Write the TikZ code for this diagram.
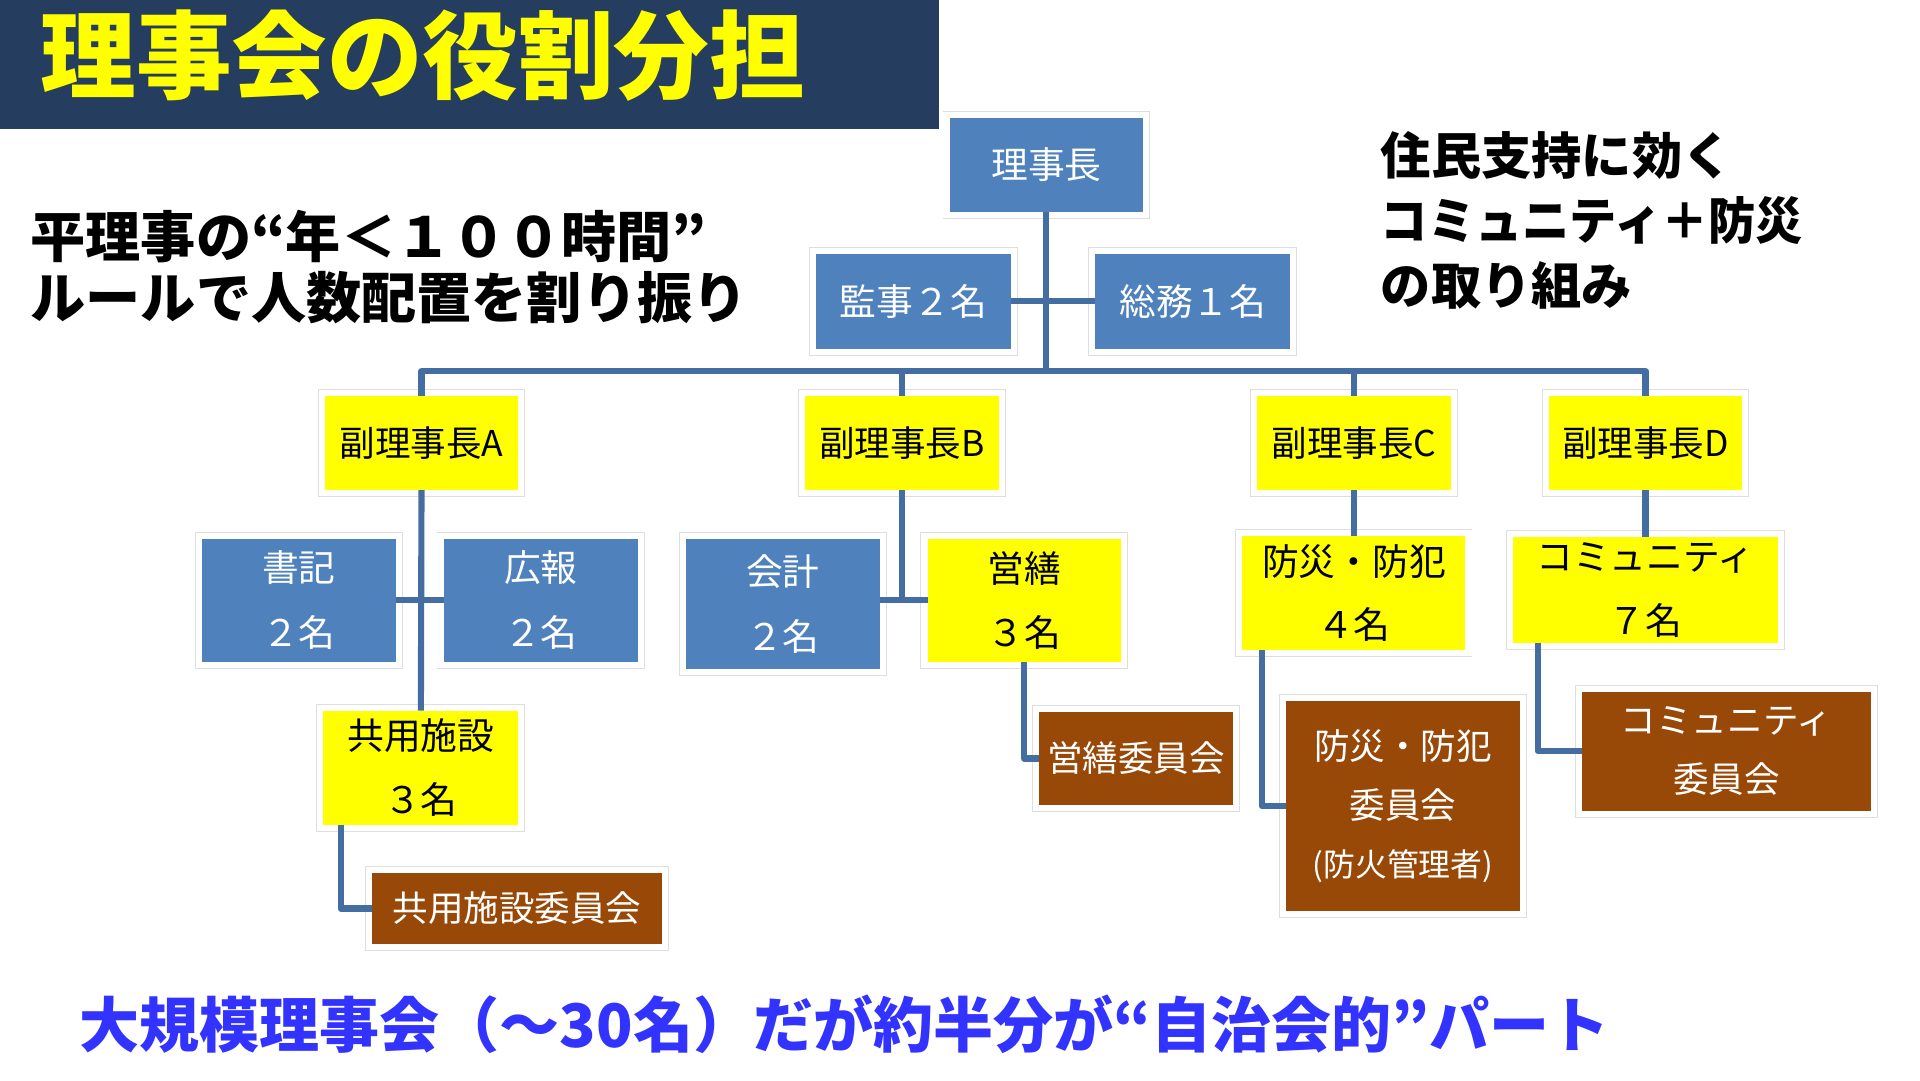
\documentclass[tikz,border=0pt]{standalone}
\usepackage{fontspec}
\setmainfont{Noto Sans CJK JP}
\definecolor{navy}{RGB}{37,61,94}
\definecolor{boxblue}{RGB}{79,129,189}
\definecolor{boxyellow}{RGB}{255,255,0}
\definecolor{titleyellow}{RGB}{255,255,0}
\definecolor{boxbrown}{RGB}{152,72,7}
\definecolor{linkblue}{RGB}{68,110,162}
\definecolor{textblue}{RGB}{51,51,255}
\newcommand{\fsz}[2]{\fontsize{#1}{#2}\selectfont}
\tikzset{
  orgbox/.style={rectangle, inner sep=0pt, outer sep=-2.5pt, line width=5pt,
    draw=white, preaction={draw=black!13, line width=6.5pt}, align=center},
  bluebox/.style={orgbox, fill=boxblue, text=white, font=\fsz{30}{53}},
  yelbox/.style={orgbox, fill=boxyellow, text=black, font=\fsz{30}{52}},
  brnbox/.style={orgbox, fill=boxbrown, text=white, font=\fsz{29}{48}},
  link/.style={draw=linkblue, line width=5pt, line join=round},
  plain/.style={inner sep=0pt, outer sep=0pt},
}
\begin{document}
\begin{tikzpicture}[x=1pt,y=-1pt]
\useasboundingbox (0,0) rectangle (1567,881.5);
\fill[white] (0,0) rectangle (1567,881.5);
% title band
\fill[navy] (0,0) rectangle (766,105);
\node[plain, text=titleyellow, font=\fsz{78}{78}\bfseries] (title) at (345,45) {理事会の役割分担};
% side texts
\node[plain, anchor=west, font=\fsz{45}{50}\bfseries] (lt1) at (25,193) {平理事の“年＜１００時間”};
\node[plain, anchor=west, font=\fsz{45}{50}\bfseries] (lt2) at (25,243) {ルールで人数配置を割り振り};
\node[plain, anchor=west, font=\fsz{41}{50}\bfseries] (rt1) at (1127,127) {住民支持に効く};
\node[plain, anchor=west, font=\fsz{41}{50}\bfseries] (rt2) at (1127,180) {\scalebox{0.94}[1]{コミュニティ＋防災}};
\node[plain, anchor=west, font=\fsz{41}{50}\bfseries] (rt3) at (1127,233) {の取り組み};
\node[plain, anchor=west, text=textblue, font=\fsz{49}{50}\bfseries] (bt) at (65,836) {大規模理事会（～30名）だが約半分が“自治会的”パート};
% boxes (size = fill + 5)
\node[bluebox, minimum width=163, minimum height=82] (rj) at (854,134.5) {理事長};
\node[bluebox, minimum width=164, minimum height=83] (kanji) at (745.5,246) {監事２名};
\node[bluebox, minimum width=164, minimum height=83] (somu) at (973.5,246) {総務１名};
\node[yelbox, minimum width=163, minimum height=82, font=\fsz{29}{52}] (va) at (344,361.5) {副理事長A};
\node[yelbox, minimum width=163, minimum height=82, font=\fsz{29}{52}] (vb) at (736,361.5) {副理事長B};
\node[yelbox, minimum width=163, minimum height=82, font=\fsz{29}{52}] (vc) at (1105,361.5) {副理事長C};
\node[yelbox, minimum width=163, minimum height=82, font=\fsz{29}{52}] (vd) at (1343,361.5) {副理事長D};
\node[bluebox, minimum width=163, minimum height=105] (shoki) at (244,490) {書記\\２名};
\node[bluebox, minimum width=164, minimum height=105] (koho) at (441.5,490) {広報\\２名};
\node[yelbox, minimum width=164, minimum height=98] (kyoyo) at (343.5,626.5) {共用施設\\３名};
\node[brnbox, minimum width=241, minimum height=63] (kyoyoI) at (422,741.5) {共用施設委員会};
\node[bluebox, minimum width=163, minimum height=111] (kaikei) at (639,493) {会計\\２名};
\node[yelbox, minimum width=163, minimum height=105] (eizen) at (836,490) {営繕\\３名};
\node[brnbox, minimum width=163, minimum height=81] (eizenI) at (927,619) {営繕委員会};
\node[yelbox, minimum width=187, minimum height=98] (bosai) at (1105,484) {防災・防犯\\４名};
\node[brnbox, minimum width=196, minimum height=176] (bosaiI) at (1145,658) {防災・防犯\\委員会\\{\fsz{26}{48}(防火管理者)}};
\node[yelbox, minimum width=221, minimum height=91] (comm) at (1343,481.5) {コミュニティ\\７名};
\node[brnbox, minimum width=241, minimum height=102] (commI) at (1409,613) {コミュニティ\\委員会};
% connectors
\coordinate (bus) at (854,303);
\draw[link] (rj.south) -- (bus);
\draw[link] (kanji.east) -- (somu.west);
\draw[link] (va.north) |- (bus) -| (vd.north);
\draw[link] (vb.north) -- (vb.north |- bus);
\draw[link] (vc.north) -- (vc.north |- bus);
\draw[link] (va.south) -- (kyoyo.north);
\draw[link] (shoki.east) -- (koho.west);
\draw[link] ([xshift=14pt]kyoyo.south west) |- (kyoyoI.west);
\draw[link] (vb.south) -- (vb.south |- eizen.west);
\draw[link] (kaikei.east |- eizen.west) -- (eizen.west);
\draw[link] (eizen.south) |- (eizenI.west);
\draw[link] (vc.south) -- (bosai.north);
\draw[link] ([xshift=16pt]bosai.south west) |- (bosaiI.west);
\draw[link] (vd.south) -- (comm.north);
\draw[link] ([xshift=20pt]comm.south west) |- (commI.west);
\end{tikzpicture}
\end{document}
